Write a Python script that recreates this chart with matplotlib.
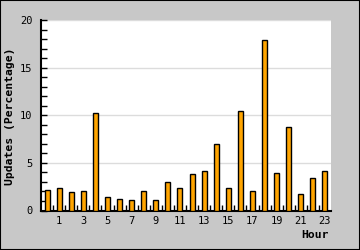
import matplotlib as mpl
mpl.use("Agg")
import matplotlib.pyplot as plt
from matplotlib.ticker import MultipleLocator, FixedLocator, NullFormatter

# data
hours = list(range(24))
updates = [2.2, 2.4, 1.9, 2.0, 10.2, 1.4, 1.2, 1.1, 2.0, 1.1, 3.0, 2.4,
           3.8, 4.1, 7.0, 2.4, 10.4, 2.0, 17.9, 3.9, 8.8, 1.7, 3.4, 4.1]
xtick_hours = [1, 3, 5, 7, 9, 11, 13, 15, 17, 19, 21, 23]

mono = "DejaVu Sans Mono"
bg = "#c8c8c8"

fig = plt.figure(figsize=(3.6, 2.5), dpi=100, facecolor=bg)
ax = fig.add_axes([41 / 360, 1 - 210.5 / 250, 290 / 360, 190.5 / 250])
ax.set_facecolor("white")

ax.bar(hours, updates, width=0.42, color="#ffa500", edgecolor="black",
       linewidth=1, zorder=3)

ax.set_xlim(-0.5, 23.5)
ax.set_ylim(0, 20)

# y axis: major every 5, minor every 1, ticks inward
ax.yaxis.set_major_locator(MultipleLocator(5))
ax.yaxis.set_minor_locator(MultipleLocator(1))
ax.grid(axis="y", which="major", color="#dcdcdc", linewidth=1, zorder=0)

# x axis: labels on odd hours, small ticks on category boundaries
ax.xaxis.set_major_locator(FixedLocator(xtick_hours))
ax.xaxis.set_minor_locator(FixedLocator([h + 0.5 for h in hours[:-1]]))
ax.xaxis.set_minor_formatter(NullFormatter())
ax.tick_params(axis="x", which="major", length=0, pad=4)
ax.tick_params(axis="x", which="minor", direction="in", length=4,
               width=1, color="black")
ax.tick_params(axis="y", which="both", direction="in", length=4,
               width=1, color="black", pad=6)

for lbl in ax.get_xticklabels() + ax.get_yticklabels():
    lbl.set_fontfamily(mono)
    lbl.set_fontsize(7.5)

for side in ["top", "right"]:
    ax.spines[side].set_visible(False)
for side in ["left", "bottom"]:
    ax.spines[side].set_linewidth(1.5)
    ax.spines[side].set_color("black")

fig.text(10 / 360, 1 - 116 / 250, "Updates (Percentage)", rotation=90,
         ha="center", va="center", fontfamily=mono, fontweight="bold",
         fontsize=8.2)
fig.text(329 / 360, 1 - 235 / 250, "Hour", ha="right", va="center",
         fontfamily=mono, fontweight="bold", fontsize=8.2)

# outer border
fig.add_artist(plt.Rectangle((0, 0), 1, 1, transform=fig.transFigure,
                             fill=False, edgecolor="black", linewidth=1.5))

fig.savefig("out.png", dpi=100, facecolor=bg)
